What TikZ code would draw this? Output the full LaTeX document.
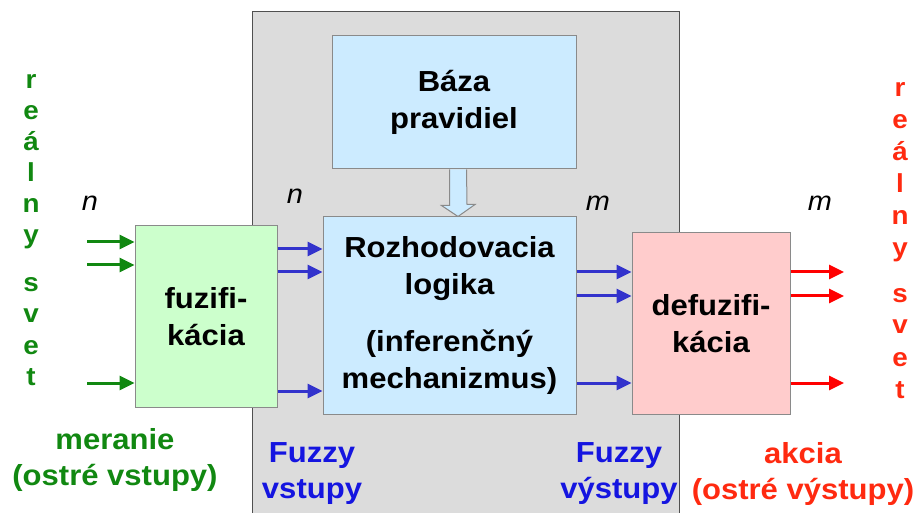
\documentclass[tikz,border=0pt]{standalone}
\usepackage{fontspec}
\setmainfont{Liberation Sans}[FakeStretch=1.07]
\usetikzlibrary{arrows.meta}

\definecolor{frameGray}{HTML}{DCDCDC}
\definecolor{frameLine}{HTML}{505050}
\definecolor{boxLine}{HTML}{8A8A8A}
\definecolor{fuzFill}{HTML}{CCFFCC}
\definecolor{logFill}{HTML}{CCEBFF}
\definecolor{defFill}{HTML}{FFCCCC}
\definecolor{inGreen}{HTML}{118811}
\definecolor{midBlue}{HTML}{3333CC}
\definecolor{lblBlue}{HTML}{1515E0}
\definecolor{outRed}{HTML}{FF0000}
\definecolor{lblRed}{HTML}{FF2A10}

\tikzset{
  blockbox/.style={draw=boxLine, line width=1pt, inner sep=0pt, align=center,
    font=\fontsize{29}{37}\selectfont\bfseries},
  sig/.style={line width=3pt, -{Triangle[length=15pt,width=14pt]}},
  lbl/.style={align=center, inner sep=0pt, font=\fontsize{29}{36}\selectfont\bfseries},
  dim/.style={inner sep=0pt, font=\fontsize{27}{27}\selectfont\itshape},
  vchar/.style={anchor=base, inner sep=0pt, font=\fontsize{26}{26}\selectfont\bfseries},
}

\begin{document}
\begin{tikzpicture}[x=1pt, y=-1pt]
\useasboundingbox (0,0) rectangle (919,513);

% grey frame around the fuzzy part
\fill[frameGray] (252,12) rectangle (679,513);
\draw[frameLine, line width=1pt] (252,513) -- (252,12) -- (679,12) -- (679,513);

% blocks
\node[blockbox, fill=fuzFill, minimum width=142pt, minimum height=181pt] (fuz) at (206,316.5) {fuzifi-\\kácia};
\node[blockbox, fill=logFill, minimum width=244pt, minimum height=133pt] (baza) at (454,102.5) {Báza\\pravidiel};
\node[blockbox, fill=logFill, minimum width=253pt, minimum height=197pt] (logic) at (449.5,315.5)
  {Rozhodovacia\\logika\\[20pt](inferenčný\\mechanizmus)};
\node[blockbox, fill=defFill, minimum width=158pt, minimum height=181pt] (defuz) at (711,323.5) {defuzifi-\\kácia};

% hollow arrow from the rule base to the inference logic
\coordinate (hs) at (458,0);
\draw[boxLine, fill=logFill, line width=1pt, line join=miter]
  ([xshift=-8.5pt]baza.south -| hs) -- ++(0,36) -- ++(-8,0) -- (logic.north -| hs)
  -- ++(17,-12) -- ++(-8,0) -- ([xshift=8.5pt]baza.south -| hs);

% crisp inputs
\foreach \yy in {242,265,383}
  \draw[sig, inGreen] (87,\yy) -- (fuz.west |- 0,\yy);
% fuzzy inputs
\foreach \yy in {249,272,391}
  \draw[sig, midBlue] (fuz.east |- 0,\yy) -- (logic.west |- 0,\yy);
% fuzzy outputs
\foreach \yy in {272,296,383}
  \draw[sig, midBlue] (logic.east |- 0,\yy) -- (defuz.west |- 0,\yy);
% crisp outputs
\foreach \yy in {272,296,383}
  \draw[sig, outRed] (defuz.east |- 0,\yy) -- (844,\yy);

% signal counts
\node[dim] (n1) at (90,203) {n};
\node[dim] (n2) at (295,196) {n};
\node[dim] (m1) at (598,203) {m};
\node[dim] (m2) at (820,203) {m};

% vertical "reálny svet" on both sides
\foreach \c [count=\i from 0] in {r,e,á,l,n,y}
  \node[vchar, text=inGreen] at (31,89+31*\i) {\c};
\foreach \c [count=\i from 0] in {s,v,e,t}
  \node[vchar, text=inGreen] at (31,292+31*\i) {\c};
\foreach \c [count=\i from 0] in {r,e,á,l,n,y}
  \node[vchar, text=lblRed] at (900,97+32*\i) {\c};
\foreach \c [count=\i from 0] in {s,v,e,t}
  \node[vchar, text=lblRed] at (900,302+32*\i) {\c};

% bottom captions
\node[lbl, text=inGreen] (meas) at (115,460) {meranie\\(ostré vstupy)};
\node[lbl, text=lblBlue] (fin) at (312,474) {Fuzzy\\vstupy};
\node[lbl, text=lblBlue] (fout) at (619,474) {Fuzzy\\výstupy};
\node[lbl, text=lblRed] (act) at (803,474) {akcia\\(ostré výstupy)};
\end{tikzpicture}
\end{document}
